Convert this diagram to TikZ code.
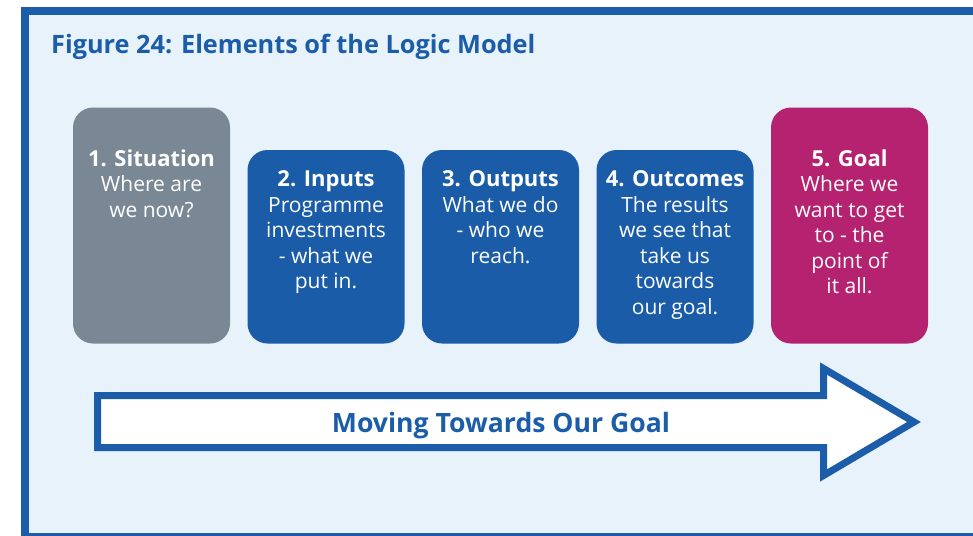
\documentclass[tikz,border=0pt]{standalone}
\usepackage{fontspec}
\setmainfont{Open Sans}
\usepackage{xcolor}

\definecolor{frameblue}{HTML}{1B5DA8}
\definecolor{boxblue}{HTML}{1A5CA8}
\definecolor{boxgray}{HTML}{7A8795}
\definecolor{boxpink}{HTML}{B5226F}
\definecolor{paleblue}{HTML}{E7F2FA}

\begin{document}
\begin{tikzpicture}[x=1pt, y=-1pt,
    box/.style={rounded corners=20pt, minimum width=157pt, inner sep=0pt},
    boxtxt/.style={text=white, align=center, anchor=base, inner sep=0pt,
        font=\fontsize{21}{25.5}\selectfont}]
    \useasboundingbox (0,0) rectangle (973,535);

    % Panel and frame
    \fill[paleblue] (21,7) rectangle (990,545);
    \draw[frameblue, line width=8pt] (990,11) -- (25,11) -- (25,537) -- (990,537);

    \node[anchor=base west, inner sep=0pt, text=frameblue,
        font=\fontsize{25.3}{30}\selectfont\bfseries] (title) at (51,53)
        {Figure 24: Elements of the Logic Model};

    % The five elements
    \node[box, fill=boxgray, minimum height=236pt] (situation) at (151.5,225.5) {};
    \node[box, fill=boxblue, minimum height=193.5pt] (inputs) at (326,246.75) {};
    \node[box, fill=boxblue, minimum height=193.5pt] (outputs) at (500.5,246.75) {};
    \node[box, fill=boxblue, minimum height=193.5pt] (outcomes) at (675,246.75) {};
    \node[box, fill=boxpink, minimum height=236pt] (goal) at (849.5,225.5) {};

    % base of a text block is its last line
    \node[boxtxt] (situationtxt) at ([yshift=-110pt]situation.north)
        {{\fontsize{22}{25.5}\selectfont\bfseries 1. Situation}\\Where are\\we now?};
    \node[boxtxt] (inputstxt) at ([yshift=-139pt]inputs.north)
        {{\fontsize{22}{25.5}\selectfont\bfseries 2. Inputs}\\Programme\\investments\\- what we\\put in.};
    \node[boxtxt] (outputstxt) at ([yshift=-113.5pt]outputs.north)
        {{\fontsize{22}{25.5}\selectfont\bfseries 3. Outputs}\\What we do\\- who we\\reach.};
    \node[boxtxt] (outcomestxt) at ([yshift=-164.5pt]outcomes.north)
        {{\fontsize{22}{25.5}\selectfont\bfseries 4. Outcomes}\\The results\\we see that\\take us\\towards\\our goal.};
    \node[boxtxt] (goaltxt) at ([yshift=-186.5pt]goal.north)
        {{\fontsize{22}{25.5}\selectfont\bfseries 5. Goal}\\Where we\\want to get\\to - the\\point of\\it all.};

    % Big arrow
    \draw[frameblue, line width=7pt, fill=white] (97.5,395.5) -- (823.5,395.5) -- (823.5,368.5)
        -- (914,422) -- (823.5,475.5) -- (823.5,447.5) -- (97.5,447.5) -- cycle;
    \node[anchor=base, inner sep=0pt, text=frameblue,
        font=\fontsize{26.6}{30}\selectfont\bfseries] (movetxt) at (501,432)
        {Moving Towards Our Goal};
\end{tikzpicture}
\end{document}
